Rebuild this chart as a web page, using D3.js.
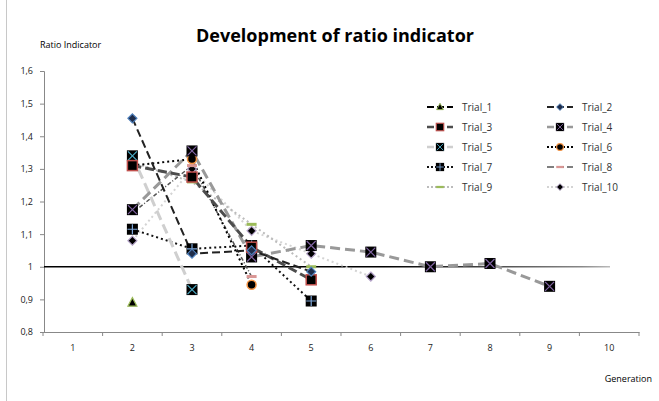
<!DOCTYPE html>
<html lang="en">
<head>
  <meta charset="UTF-8">
  <title>Development of ratio indicator</title>
  <script src="https://d3js.org/d3.v7.min.js"></script>
  <style>
    body { margin: 0; background: #fff; }
    text { font-family: "Open Sans", "DejaVu Sans", sans-serif; }
  </style>
</head>
<body>
  <div id="chart"></div>
  <script>
    // data
    const generations = [1, 2, 3, 4, 5, 6, 7, 8, 9, 10];
    const yTicks = [0.8, 0.9, 1.0, 1.1, 1.2, 1.3, 1.4, 1.5, 1.6];

    const trial1 = [[2, 0.89]];
    const trial2 = [[2, 1.455], [3, 1.04], [4, 1.05], [5, 0.985]];
    const trial3 = [[2, 1.31], [3, 1.275], [4, 1.06], [5, 0.96]];
    const trial4 = [[2, 1.175], [3, 1.355], [4, 1.03], [5, 1.065], [6, 1.045], [7, 1.0], [8, 1.01], [9, 0.94]];
    const trial5 = [[2, 1.34], [3, 0.93]];
    const trial6 = [[2, 1.31], [3, 1.33], [4, 0.945]];
    const trial7 = [[2, 1.115], [3, 1.055], [4, 1.065], [5, 0.895]];
    const trial8 = [[2, 1.165], [3, 1.31], [4, 0.97]];
    const trial9 = [[2, 1.32], [3, 1.26], [4, 1.13], [5, 1.0]];
    const trial10 = [[2, 1.08], [3, 1.30], [4, 1.11], [5, 1.04], [6, 0.97]];

    const series = [
      { name: 'Trial_1', data: trial1, stroke: '#000', width: 2, dash: '8,4', marker: 'triangle', fill: '#000', edge: '#9bbb59' },
      { name: 'Trial_2', data: trial2, stroke: '#222', width: 2, dash: '8,4', marker: 'diamond', fill: '#1f2d4a', edge: '#4f81bd' },
      { name: 'Trial_3', data: trial3, stroke: '#4d4d4d', width: 3, dash: '9,4', marker: 'square', fill: '#000', edge: '#c0504d' },
      { name: 'Trial_4', data: trial4, stroke: '#999', width: 3, dash: '10,5', marker: 'xsquare', fill: '#000', edge: '#8064a2' },
      { name: 'Trial_5', data: trial5, stroke: '#cfcfcf', width: 3, dash: '10,5', marker: 'xsquare', fill: '#000', edge: '#4bacc6' },
      { name: 'Trial_6', data: trial6, stroke: '#000', width: 2, dash: '2,3', marker: 'circle', fill: '#000', edge: '#f79646' },
      { name: 'Trial_7', data: trial7, stroke: '#111', width: 2, dash: '2,3', marker: 'plus', fill: '#000', edge: '#7fa7d9' },
      { name: 'Trial_8', data: trial8, stroke: '#555', width: 1.5, dash: '4,2,1,2', marker: 'dash', fill: '#d99694', edge: '#d99694' },
      { name: 'Trial_9', data: trial9, stroke: '#bbb', width: 2, dash: '2,3', marker: 'dash', fill: '#9bbb59', edge: '#9bbb59' },
      { name: 'Trial_10', data: trial10, stroke: '#d4d4d4', width: 2, dash: '2,3', marker: 'diamond', fill: '#000', edge: '#b3a2c7' }
    ];

    const W = 659, H = 401;
    const svg = d3.select('#chart').append('svg')
      .attr('width', W).attr('height', H);

    const x = d3.scaleBand().domain(generations).range([43, 639]);
    const y = d3.scaleLinear().domain([0.8, 1.6]).range([332, 71]);
    const cx = g => x(g) + x.bandwidth() / 2;
    const fmt = v => d3.format('.1f')(v).replace('.0', '').replace('.', ',');

    // outer frame line on the left
    svg.append('line').attr('x1', 6.5).attr('x2', 6.5).attr('y1', 0).attr('y2', H)
      .attr('stroke', '#c8c8c8');

    // title
    svg.append('text').attr('x', 335).attr('y', 42).attr('text-anchor', 'middle')
      .attr('font-size', 18).attr('font-weight', 'bold').text('Development of ratio indicator');
    svg.append('text').attr('x', 40).attr('y', 48).attr('font-size', 9).text('Ratio Indicator');
    svg.append('text').attr('x', 652).attr('y', 382).attr('text-anchor', 'end')
      .attr('font-size', 9).text('Generation');

    // axes
    const yAxis = svg.append('g').attr('transform', 'translate(44,0)')
      .call(d3.axisLeft(y).tickValues(yTicks).tickFormat(fmt).tickSize(4).tickPadding(7));
    const xAxis = svg.append('g').attr('transform', 'translate(0,332)')
      .call(d3.axisBottom(x).tickSize(0).tickPadding(13));
    xAxis.selectAll('.tick')
      .append('line').attr('x1', -x.bandwidth() / 2).attr('x2', -x.bandwidth() / 2)
      .attr('y1', 0).attr('y2', 4).attr('stroke', '#888');
    xAxis.append('line').attr('x1', 639).attr('x2', 639).attr('y1', 0).attr('y2', 4).attr('stroke', '#888');
    [yAxis, xAxis].forEach(a => {
      a.select('.domain').attr('stroke', '#888');
      a.selectAll('.tick line').attr('stroke', '#888');
      a.selectAll('text').attr('font-size', 9).attr('fill', '#222');
    });

    // reference line at 1
    const grad = svg.append('defs').append('linearGradient').attr('id', 'fade');
    grad.append('stop').attr('offset', '0.6').attr('stop-color', '#000');
    grad.append('stop').attr('offset', '0.95').attr('stop-color', '#888');
    grad.append('stop').attr('offset', '1').attr('stop-color', '#bbb');
    svg.append('rect').attr('x', 44).attr('y', y(1) - 0.75).attr('width', 566).attr('height', 1.5)
      .attr('fill', 'url(#fade)');

    const line = d3.line().x(d => cx(d[0])).y(d => y(d[1]));

    function drawMarker(g, s, px, py, k = 1) {
      const m = g.append('g').attr('transform', `translate(${px},${py}) scale(${k})`);
      if (s.marker === 'square') {
        m.append('rect').attr('x', -5).attr('y', -5).attr('width', 10).attr('height', 10)
          .attr('fill', s.fill).attr('stroke', s.edge).attr('stroke-width', 1.5);
      } else if (s.marker === 'xsquare') {
        m.append('rect').attr('x', -5.5).attr('y', -5.5).attr('width', 11).attr('height', 11).attr('fill', s.fill);
        m.append('path').attr('d', 'M-4.5,-4.5L4.5,4.5M4.5,-4.5L-4.5,4.5').attr('stroke', s.edge).attr('stroke-width', 1.2);
      } else if (s.marker === 'plus') {
        m.append('rect').attr('x', -5.5).attr('y', -5.5).attr('width', 11).attr('height', 11).attr('fill', s.fill);
        m.append('path').attr('d', 'M0,-5V5M-5,0H5').attr('stroke', s.edge).attr('stroke-width', 1.2);
      } else if (s.marker === 'circle') {
        m.append('circle').attr('r', 4.5).attr('fill', s.fill).attr('stroke', s.edge).attr('stroke-width', 1.5);
      } else if (s.marker === 'diamond') {
        m.append('path').attr('d', 'M0,-4.5L4.5,0L0,4.5L-4.5,0Z')
          .attr('fill', s.fill).attr('stroke', s.edge).attr('stroke-width', 1.2);
      } else if (s.marker === 'triangle') {
        m.append('path').attr('d', 'M0,-5L4.5,3.5L-4.5,3.5Z')
          .attr('fill', s.fill).attr('stroke', s.edge).attr('stroke-width', 1.2);
      } else if (s.marker === 'dash') {
        m.append('rect').attr('x', -5).attr('y', -1.5).attr('width', 10).attr('height', 3).attr('fill', s.fill);
      }
    }

    // lines first, then markers, drawn in reverse order so early trials sit on top
    const plot = svg.append('g');
    series.slice().reverse().forEach(s => {
      plot.append('path').datum(s.data).attr('d', line)
        .attr('fill', 'none').attr('stroke', s.stroke).attr('stroke-width', s.width)
        .attr('stroke-dasharray', s.dash);
    });
    series.slice().reverse().forEach(s => {
      s.data.forEach(d => drawMarker(plot, s, cx(d[0]), y(d[1])));
    });

    // legend
    const legend = svg.append('g');
    series.forEach((s, i) => {
      const col = i % 2, row = Math.floor(i / 2);
      const lx = 427 + col * 120, ly = 107 + row * 20;
      legend.append('line').attr('x1', lx).attr('x2', lx + 26).attr('y1', ly).attr('y2', ly)
        .attr('stroke', s.stroke).attr('stroke-width', Math.min(s.width, 2.5))
        .attr('stroke-dasharray', s.dash === '2,3' ? '2,2' : '7,3');
      drawMarker(legend, s, lx + 13, ly, 0.75);
      legend.append('text').attr('x', lx + 35).attr('y', ly + 4).attr('font-size', 10)
        .attr('fill', '#333').text(s.name);
    });
  </script>
</body>
</html>
